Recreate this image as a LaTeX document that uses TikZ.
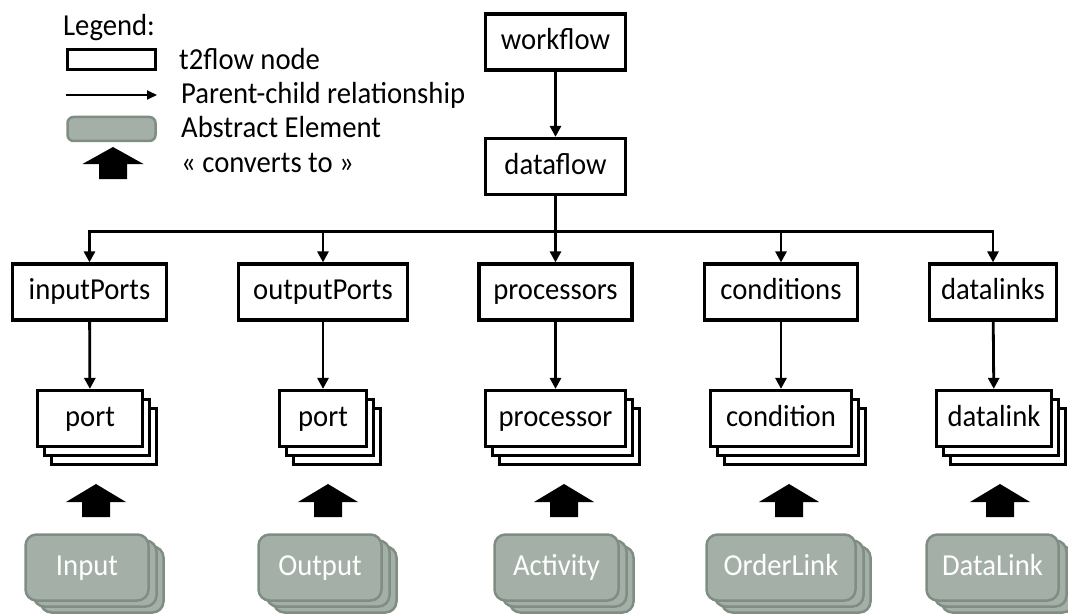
\documentclass[tikz,border=0pt]{standalone}
\usepackage{fontspec}
\setmainfont[FakeStretch=0.94]{Carlito}
\usetikzlibrary{arrows.meta,calc}
\definecolor{absfill}{RGB}{164,176,167}
\definecolor{absdraw}{RGB}{128,141,131}
\newcommand\tstack[4]{% name, x, width, text
  \node[snode, minimum width=#3] (#1c) at ($(#2,418.5)+(14,18)$) {};
  \node[snode, minimum width=#3] (#1b) at ($(#2,418.5)+(7,9)$) {};
  \node[snode, minimum width=#3] (#1) at (#2,418.5) {#4};
}
\newcommand\astack[4]{% name, x, width, text
  \node[anode, minimum width=#3] (#1c) at ($(#2,567.5)+(15,12)$) {};
  \node[anode, minimum width=#3] (#1b) at ($(#2,567.5)+(8,6)$) {};
  \node[anode, minimum width=#3] (#1) at (#2,567.5) {#4};
}
\newcommand\bigup[2]{% name, x
  \coordinate (#1) at (#2,484);
  \fill (#1) -- ++(30,18) -- ++(-16,0) -- ++(0,15) -- ++(-28,0) -- ++(0,-15) -- ++(-16,0) -- cycle;
}
\begin{document}
\begin{tikzpicture}[x=1pt,y=-1pt,
  every node/.style={font=\fontsize{30.5}{36}\selectfont},
  tnode/.style={draw=black, line width=3.2pt, fill=white, minimum height=56pt, inner sep=0pt, text height=21pt, text depth=6pt},
  snode/.style={tnode},
  anode/.style={draw=absdraw, line width=2.5pt, fill=absfill, rounded corners=11pt, text=white, minimum height=66pt, inner sep=0pt, text height=21pt, text depth=6pt},
  conn/.style={line width=2.8pt, -{Triangle[length=11pt,width=11pt]}},
  bus/.style={line width=2.8pt},
  legtext/.style={anchor=base west, inner sep=0pt},
]
\useasboundingbox (0,0) rectangle (1068,615);

% ---------- legend ----------
\node[legtext] (legtitle) at (63,36) {Legend:};
\node[draw=black, line width=3pt, minimum width=88pt, minimum height=20pt, inner sep=0pt] (legbox) at (111.5,59.5) {};
\coordinate (legA) at (66,95);
\coordinate (legB) at (157,95);
\draw[line width=2pt, -{Triangle[length=10pt,width=9pt]}] (legA) -- (legB);
\node[draw=absdraw, line width=2.5pt, fill=absfill, rounded corners=6pt, minimum width=88pt, minimum height=24pt, inner sep=0pt] (legabs) at (111.5,129) {};
\fill (113,147) -- ++(30.5,17) -- ++(-16.5,0) -- ++(0,15) -- ++(-28,0) -- ++(0,-15) -- ++(-16.5,0) -- cycle;
\node[legtext] (legt1) at (179,70) {t2flow node};
\node[legtext] (legt2) at (181,104) {Parent-child relationship};
\node[legtext] (legt3) at (181,138) {Abstract Element};
\node[legtext] (legt4) at (181,172) {« converts to »};

% ---------- top ----------
\node[tnode, minimum width=140pt] (workflow) at (555.5,42) {workflow};
\node[tnode, minimum width=140pt] (dataflow) at (555.5,166.5) {dataflow};
\draw[conn] (workflow) -- (dataflow);

% ---------- second row ----------
\node[tnode, minimum width=154pt] (inputPorts) at (89.5,292) {inputPorts};
\node[tnode, minimum width=169pt] (outputPorts) at (323,292) {outputPorts};
\node[tnode, minimum width=153pt] (processors) at (555.5,292) {processors};
\node[tnode, minimum width=153pt] (conditions) at (781,292) {conditions};
\node[tnode, minimum width=127pt] (datalinks) at (993,292) {datalinks};

\draw[bus] (dataflow.south) -- ++(0,35.5) coordinate (hub);
\draw[conn] (hub) -| (inputPorts);
\draw[conn] (hub) -| (outputPorts);
\draw[conn] (hub) -- (processors);
\draw[conn] (hub) -| (conditions);
\draw[conn] (hub) -| (datalinks);

% ---------- stacked t2flow nodes ----------
\tstack{portA}{90}{105pt}{port}
\tstack{portB}{323}{87pt}{port}
\tstack{processor}{555.5}{140pt}{processor}
\tstack{condition}{781}{141pt}{condition}
\tstack{datalink}{994}{115pt}{datalink}

\draw[conn] (inputPorts) -- (portA);
\draw[conn] (outputPorts) -- (portB);
\draw[conn] (processors) -- (processor);
\draw[conn] (conditions) -- (condition);
\draw[conn] (datalinks) -- (datalink);

% ---------- abstract elements ----------
\astack{Input}{87}{123pt}{Input}
\astack{Output}{320}{123pt}{Output}
\astack{Activity}{556.5}{124pt}{Activity}
\astack{OrderLink}{781}{149pt}{OrderLink}
\astack{DataLink}{992.5}{132pt}{DataLink}

% ---------- converts-to arrows ----------
\bigup{cvA}{96}
\bigup{cvB}{328}
\bigup{cvC}{564}
\bigup{cvD}{789}
\bigup{cvE}{1000}
\end{tikzpicture}
\end{document}
